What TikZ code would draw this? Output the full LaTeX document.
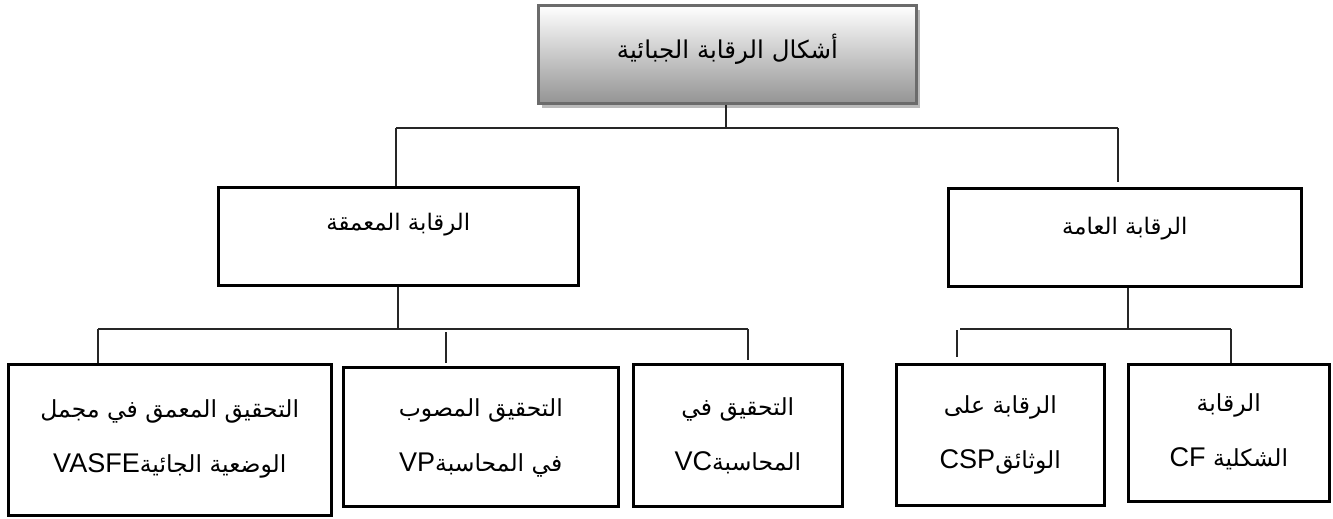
\documentclass[tikz,border=0pt]{standalone}
\usepackage{fontspec}
\usetikzlibrary{shadows}
\TeXXeTstate=1
\newfontfamily\arabicfont[Script=Arabic]{DejaVu Sans}
\newfontfamily\latinfont[Scale=1.15]{Liberation Sans}
\begin{document}
\begin{tikzpicture}[x=1pt,y=-1pt,
  box/.style={draw=black,line width=2.6pt,fill=white,anchor=north west,inner sep=0pt},
  topbox/.style={draw=black!58,line width=2.8pt,top color=white,bottom color=black!42,
    anchor=north west,inner sep=0pt,
    drop shadow={shadow xshift=4pt,shadow yshift=-5pt,fill=black!27,opacity=1}},
  conn/.style={line width=1.2pt,draw=black!85},
  txt/.style={font=\arabicfont\fontsize{23.5}{55}\selectfont,align=center,inner sep=0pt},
  txtone/.style={font=\arabicfont\fontsize{22.8}{28}\selectfont,align=center,inner sep=0pt}]
\useasboundingbox (0,0) rectangle (1333,519);

% boxes
\node[topbox,minimum width=378pt,minimum height=98pt] (T) at (537,4) {};
\node[box,minimum width=360pt,minimum height=98pt] (L) at (217,186) {};
\node[box,minimum width=353pt,minimum height=98pt] (R) at (947,187) {};
\node[box,minimum width=323pt,minimum height=151pt] (A) at (7,363) {};
\node[box,minimum width=275pt,minimum height=139pt] (B) at (342,366) {};
\node[box,minimum width=209pt,minimum height=142pt] (C) at (632,363) {};
\node[box,minimum width=208pt,minimum height=141pt] (D) at (895,363) {};
\node[box,minimum width=201pt,minimum height=137pt] (E) at (1127,363) {};

% texts
\node[txtone,font=\arabicfont\fontsize{24.5}{28}\selectfont] (tT) at ([yshift=5pt]T.center) {\beginR أشكال الرقابة الجبائية\endR};
\node[txtone] (tL) at ([yshift=12pt]L.center) {\beginR الرقابة المعمقة\endR};
\node[txtone] (tR) at ([yshift=9pt]R.center) {\beginR الرقابة العامة\endR};
\node[txt] (tA) at ([yshift=1pt]A.center) {\beginR التحقيق المعمق في مجمل\endR\\\beginR الوضعية الجائية\beginL{\latinfont VASFE}\endL\endR};
\node[txt] (tB) at ([yshift=-1pt]B.center) {\beginR التحقيق المصوب\endR\\\beginR في المحاسبة\beginL{\latinfont VP}\endL\endR};
\node[txt] (tC) at (C.center) {\beginR التحقيق في\endR\\\beginR المحاسبة\beginL{\latinfont VC}\endL\endR};
\node[txt] (tD) at (D.center) {\beginR الرقابة على\endR\\\beginR الوثائق\beginL{\latinfont CSP}\endL\endR};
\node[txt] (tE) at ([yshift=1pt]E.center) {\beginR الرقابة\endR\\\beginR الشكلية \beginL{\latinfont CF}\endL\endR};

% connector coordinates
\coordinate (j0) at (726,128);
\coordinate (j0l) at (396,128);
\coordinate (j0r) at (1118,128);
\coordinate (jl) at (398,329);
\coordinate (bl1) at (98,329);
\coordinate (bl2) at (748,329);
\coordinate (jr) at (1128,329);
\coordinate (br1) at (960,329);
\coordinate (br2) at (1231,329);

% level 1
\draw[conn] (T.south -| j0) -- (j0);
\draw[conn] (j0l) -- (j0r);
\draw[conn] (j0l) -- (j0l |- L.north);
\draw[conn] (j0r) -- ([yshift=5pt]j0r |- R.north);

% left subtree
\draw[conn] (L.south -| jl) -- (jl);
\draw[conn] (bl1) -- (bl2);
\draw[conn] (bl1) -- (bl1 |- A.north);
\draw[conn] ([yshift=-3pt]446,329) -- (446,363);
\draw[conn] (bl2) -- ([yshift=3pt]bl2 |- C.north);

% right subtree
\draw[conn] (R.south -| jr) -- (jr);
\draw[conn] (br1) -- (br2);
\draw[conn] (957,330) -- ([yshift=6pt]957,0 |- D.north);
\draw[conn] (br2) -- (br2 |- E.north);
\end{tikzpicture}
\end{document}
